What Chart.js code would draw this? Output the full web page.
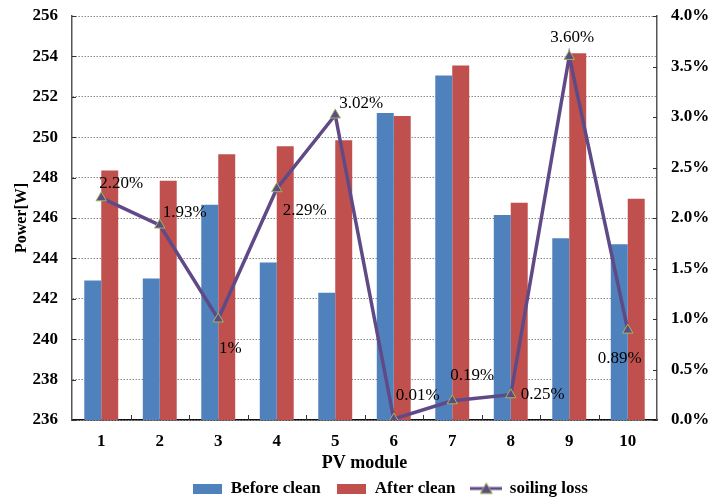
<!DOCTYPE html>
<html>
<head>
<meta charset="utf-8">
<script src="https://cdn.jsdelivr.net/npm/chart.js@4/dist/chart.umd.min.js"></script>
<style>
  html, body { margin: 0; padding: 0; background: #fff; }
  #wrap { width: 710px; height: 497px; }
</style>
</head>
<body>
<div id="wrap"><canvas id="chart" width="710" height="497"></canvas></div>
<script>
// chart data
const modules = ['1', '2', '3', '4', '5', '6', '7', '8', '9', '10'];
const beforeClean = [242.9, 243.0, 246.65, 243.8, 242.3, 251.2, 253.05, 246.15, 245.0, 244.7];
const afterClean = [248.35, 247.85, 249.15, 249.55, 249.85, 251.05, 253.55, 246.75, 254.15, 246.95];
const soilingLoss = [2.20, 1.93, 1.0, 2.29, 3.02, 0.01, 0.19, 0.25, 3.60, 0.89];
const lossLabels = ['2.20%', '1.93%', '1%', '2.29%', '3.02%', '0.01%', '0.19%', '0.25%', '3.60%', '0.89%'];

// where each loss label sits relative to its point
const labelShift = [[20, -14], [25, -13], [12, 30], [28, 22], [26, -11], [24, -23], [20, -25], [32, 0], [3, -19], [-8, 28]];

const blue = '#4F81BD';
const red = '#C0504D';
const purple = '#5F4A87';
const olive = '#9BBB59';
const serif = "'Liberation Serif', 'DejaVu Serif', serif";

function boxIcon(color) {
    let c = document.createElement('canvas');
    c.width = 29;
    c.height = 10;
    let ctx = c.getContext('2d');
    ctx.fillStyle = color;
    ctx.fillRect(0, 0, 29, 10);
    return c;
}

function lineIcon() {
    let c = document.createElement('canvas');
    c.width = 32;
    c.height = 14;
    let ctx = c.getContext('2d');
    ctx.strokeStyle = purple;
    ctx.lineWidth = 3;
    ctx.beginPath();
    ctx.moveTo(0, 7);
    ctx.lineTo(32, 7);
    ctx.stroke();
    ctx.fillStyle = purple;
    ctx.strokeStyle = olive;
    ctx.lineWidth = 1;
    ctx.beginPath();
    ctx.moveTo(16, 1.5);
    ctx.lineTo(22, 12);
    ctx.lineTo(10, 12);
    ctx.closePath();
    ctx.fill();
    ctx.stroke();
    return c;
}

const icons = [boxIcon(blue), boxIcon(red), lineIcon()];

// loss percentage labels next to the line points
const lossLabelPlugin = {
    id: 'lossLabels',
    afterDatasetsDraw(chart) {
        let meta = chart.getDatasetMeta(2);
        let ctx = chart.ctx;
        ctx.save();
        ctx.font = '17px ' + serif;
        ctx.fillStyle = '#000';
        ctx.textAlign = 'center';
        ctx.textBaseline = 'middle';
        meta.data.forEach((pt, i) => {
            ctx.fillText(lossLabels[i], pt.x + labelShift[i][0], pt.y + labelShift[i][1]);
        });
        ctx.restore();
    }
};

// small inward tick marks on the axes
const innerTicksPlugin = {
    id: 'innerTicks',
    afterLayout(chart) {
        // legend in the original sits a bit right of centre and lower
        chart.legend.left += 35;
        chart.legend.right += 35;
        chart.legend.top += 10;
        chart.legend.bottom += 10;
    },
    afterDraw(chart) {
        let ctx = chart.ctx;
        let area = chart.chartArea;
        let x = chart.scales.x;
        let y = chart.scales.y;
        let y1 = chart.scales.y1;
        ctx.save();
        ctx.strokeStyle = '#333';
        ctx.lineWidth = 1;
        ctx.beginPath();
        for (let i = 1; i < modules.length; i++) {
            let px = Math.round((x.getPixelForValue(i - 1) + x.getPixelForValue(i)) / 2) + 0.5;
            ctx.moveTo(px, area.bottom);
            ctx.lineTo(px, area.bottom - 5);
        }
        y.ticks.forEach(t => {
            let py = Math.round(y.getPixelForValue(t.value)) + 0.5;
            ctx.moveTo(area.left, py);
            ctx.lineTo(area.left + 4, py);
        });
        y1.ticks.forEach(t => {
            let py = Math.round(y1.getPixelForValue(t.value)) + 0.5;
            ctx.moveTo(area.right, py);
            ctx.lineTo(area.right - 4, py);
        });
        ctx.stroke();
        ctx.restore();
    }
};

function noVerticalPad(scale) {
    scale.paddingTop = 0;
    scale.paddingBottom = 0;
}

let options = {
    type: 'bar',
    data: {
        labels: modules,
        datasets: [{
            label: 'Before clean',
            data: beforeClean,
            backgroundColor: blue,
            yAxisID: 'y',
            order: 2
        }, {
            label: 'After clean',
            data: afterClean,
            backgroundColor: red,
            yAxisID: 'y',
            order: 2
        }, {
            type: 'line',
            label: 'soiling loss',
            data: soilingLoss,
            yAxisID: 'y1',
            borderColor: purple,
            borderWidth: 3.5,
            pointStyle: 'triangle',
            pointRadius: 6,
            pointBackgroundColor: purple,
            pointBorderColor: olive,
            pointBorderWidth: 1,
            tension: 0,
            order: 1
        }]
    },
    options: {
        responsive: false,
        animation: false,
        layout: { padding: { top: 16, right: 0, left: 0, bottom: 0 } },
        datasets: {
            bar: { barPercentage: 1.0, categoryPercentage: 0.58 }
        },
        plugins: {
            title: { display: false },
            tooltip: { enabled: false },
            legend: {
                position: 'bottom',
                labels: {
                    usePointStyle: true,
                    pointStyleWidth: 30,
                    padding: 3,
                    color: '#000',
                    font: { family: serif, size: 17, weight: 'bold' },
                    generateLabels(chart) {
                        return chart.data.datasets.map((ds, i) => ({
                            text: i < 2 ? ds.label + '   ' : ds.label,
                            pointStyle: icons[i],
                            fillStyle: 'transparent',
                            strokeStyle: 'transparent',
                            lineWidth: 0,
                            datasetIndex: i,
                            fontColor: '#000'
                        }));
                    }
                }
            }
        },
        scales: {
            x: {
                grid: { display: false, drawTicks: false },
                border: { display: true, color: '#111', width: 1.5 },
                ticks: {
                    color: '#000',
                    padding: 11,
                    font: { family: serif, size: 17, weight: 'bold' }
                },
                title: {
                    display: true,
                    text: 'PV module',
                    color: '#000',
                    padding: { top: 0, bottom: -7 },
                    font: { family: serif, size: 18, weight: 'bold' }
                },
                afterFit(scale) { scale.height = 47; }
            },
            y: {
                position: 'left',
                min: 236,
                max: 256,
                grid: { color: '#8a8a8a', lineWidth: 1, drawTicks: false },
                border: { display: true, color: '#555', width: 1.5, dash: [1.5, 1.5] },
                ticks: {
                    stepSize: 2,
                    color: '#000',
                    padding: 14,
                    font: { family: serif, size: 17, weight: 'bold' }
                },
                title: {
                    display: true,
                    text: 'Power[W]',
                    color: '#000',
                    padding: { top: 12, bottom: 0 },
                    font: { family: serif, size: 16, weight: 'bold' }
                },
                afterFit(scale) {
                    scale.width = 72;
                    noVerticalPad(scale);
                }
            },
            y1: {
                position: 'right',
                min: 0,
                max: 4,
                grid: { drawOnChartArea: false, drawTicks: false },
                border: { display: true, color: '#555', width: 1.5 },
                ticks: {
                    stepSize: 0.5,
                    color: '#000',
                    padding: 14,
                    font: { family: serif, size: 17, weight: 'bold' },
                    callback: v => v.toFixed(1) + '%'
                },
                afterFit(scale) {
                    scale.width = 53;
                    noVerticalPad(scale);
                }
            }
        }
    },
    plugins: [lossLabelPlugin, innerTicksPlugin]
};

new Chart(document.getElementById('chart'), options);
</script>
</body>
</html>
